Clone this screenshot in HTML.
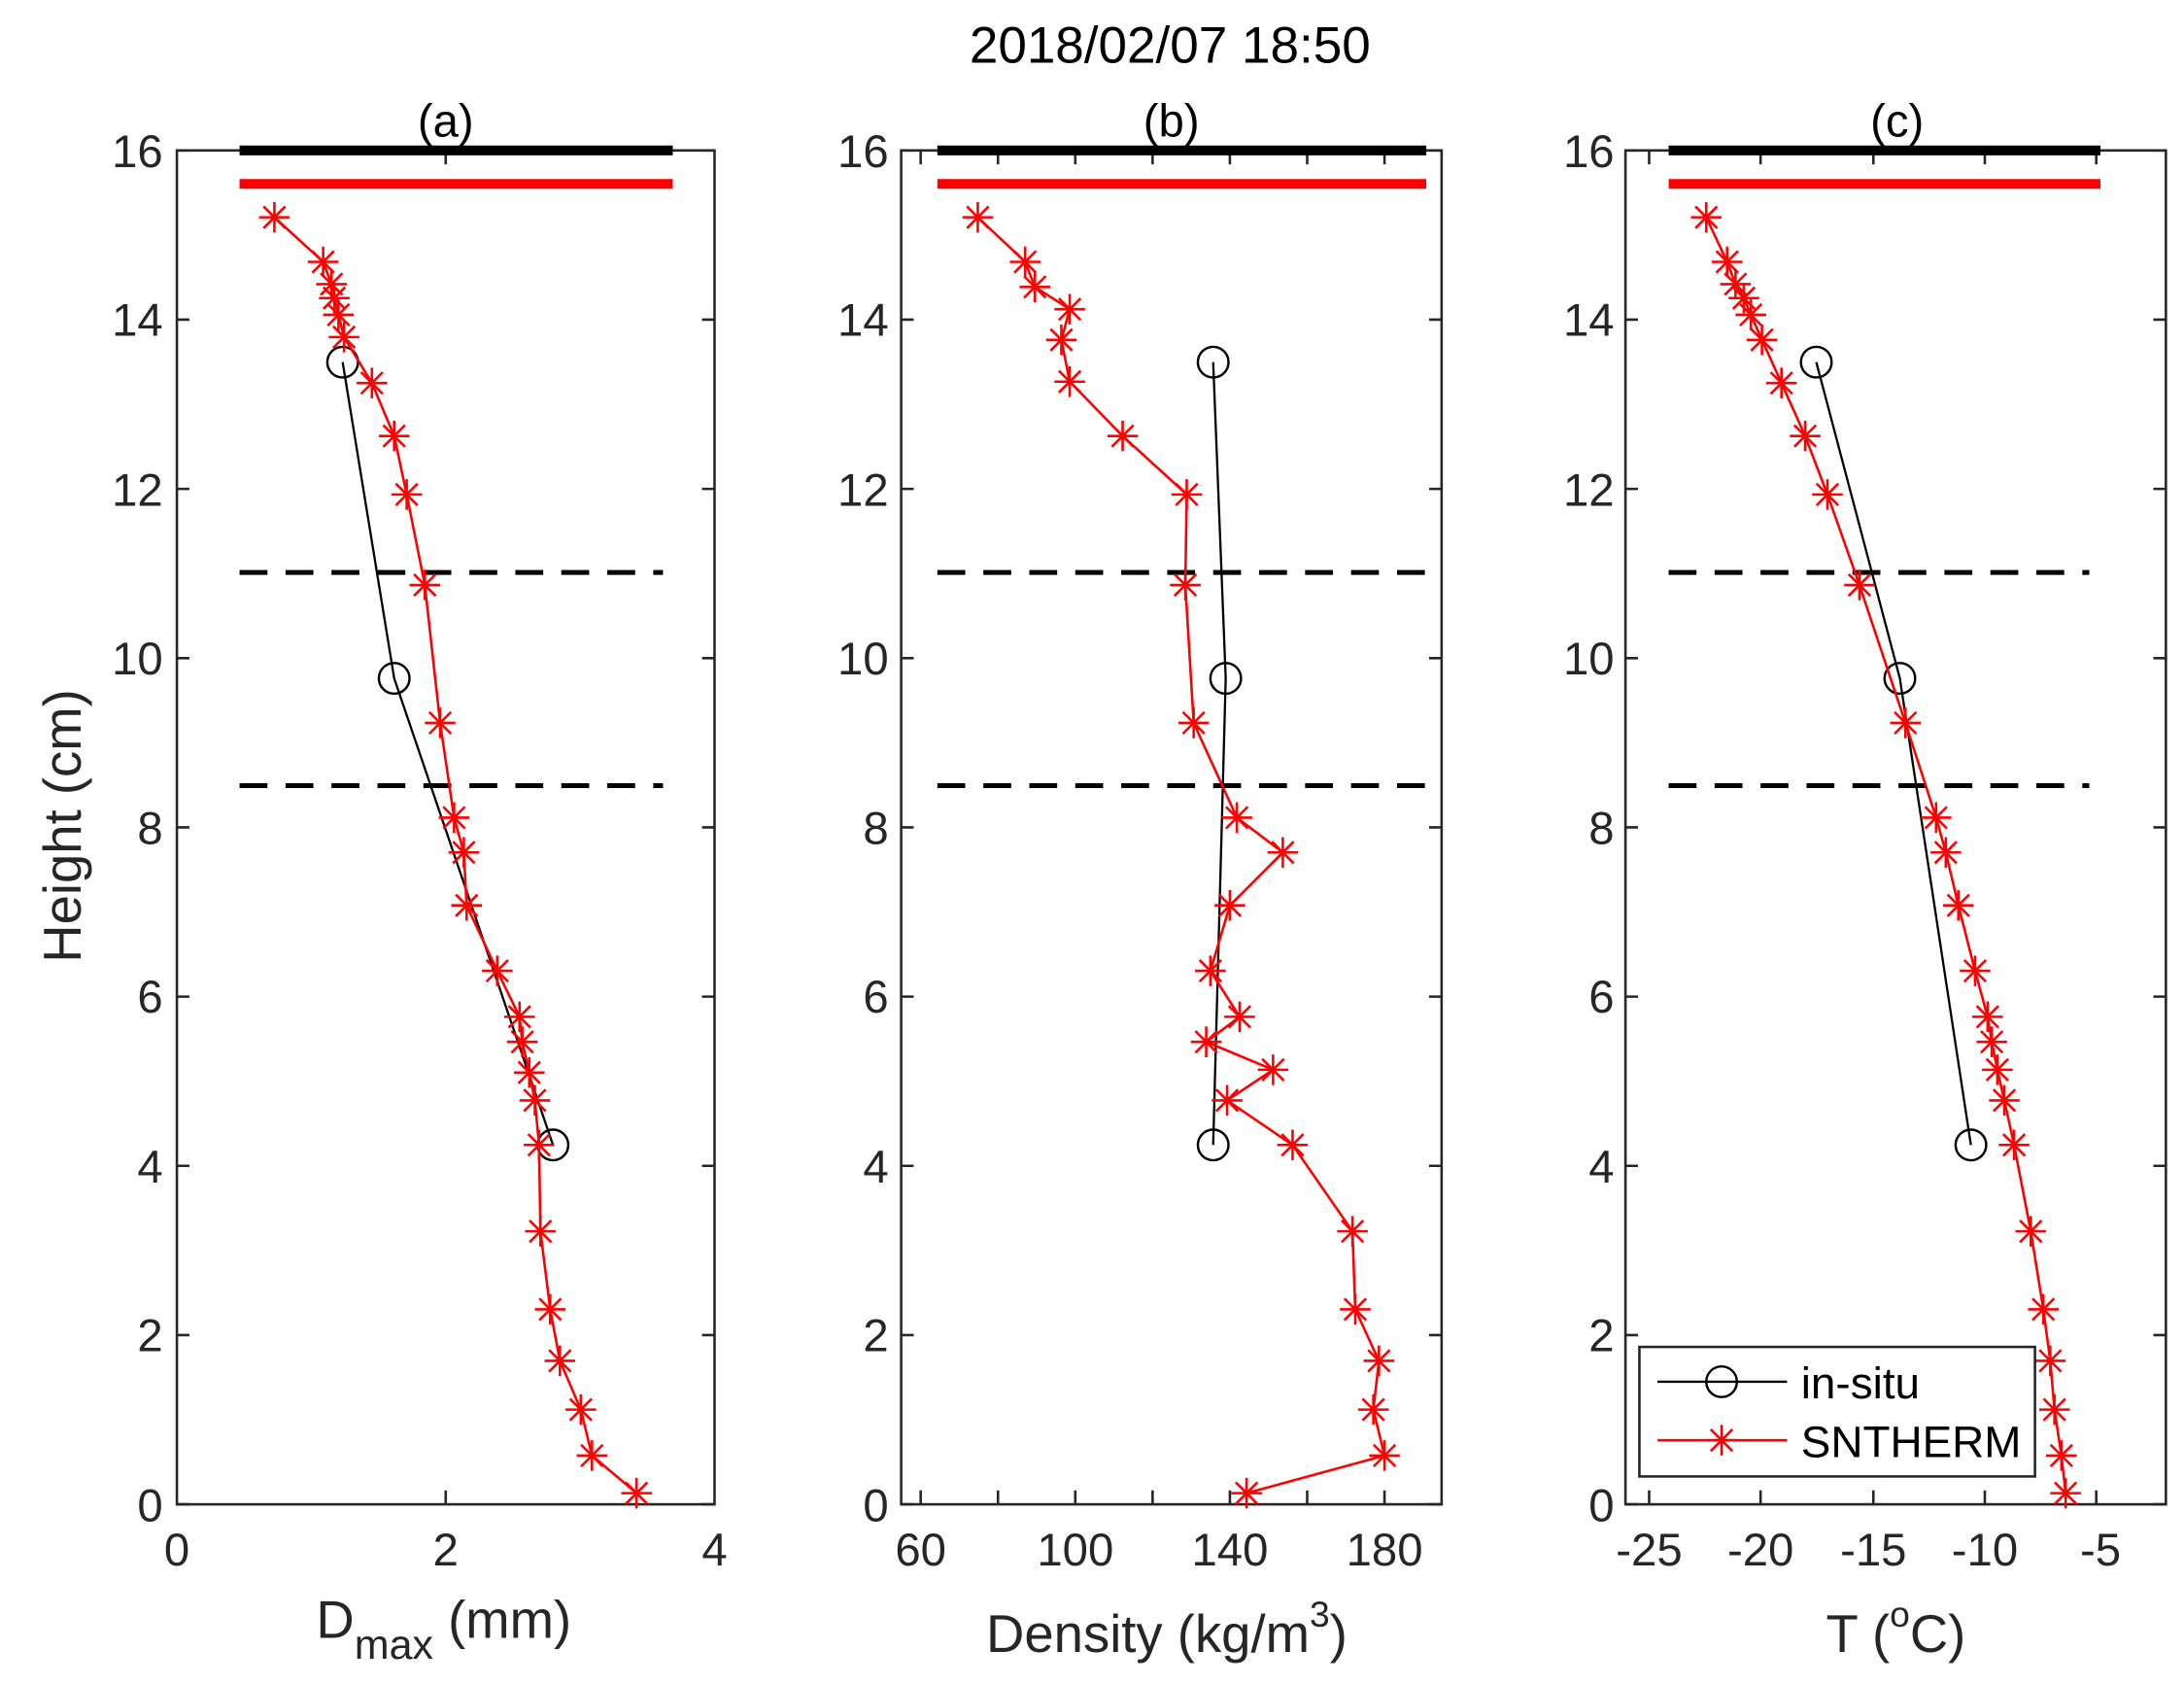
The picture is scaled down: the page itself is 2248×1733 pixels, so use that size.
<!DOCTYPE html>
<html><head><meta charset="utf-8"><style>html,body{margin:0;padding:0;background:#fff}svg{display:block}</style></head>
<body>
<svg width="2248" height="1733" viewBox="0 0 1568 1209" preserveAspectRatio="none" xmlns="http://www.w3.org/2000/svg" font-family="Liberation Sans, Arial, sans-serif">
<defs>
<g id="st"><path d="M-11,0H11M0,-11V11M-7.8,-7.8L7.8,7.8M-7.8,7.8L7.8,-7.8" stroke="#ff0000" stroke-width="1.8" fill="none"/></g>
<g id="ci"><circle r="11" fill="none" stroke="#000" stroke-width="1.7"/></g>
</defs>
<rect width="1568" height="1209" fill="#fff"/>
<text x="840" y="45" font-size="37" text-anchor="middle" fill="#000">2018/02/07 18:50</text>

<g font-size="33" fill="#262626" text-anchor="end">
<text x="117" y="1092">0</text><text x="117" y="970">2</text><text x="117" y="849">4</text><text x="117" y="727">6</text><text x="117" y="606">8</text><text x="117" y="484">10</text><text x="117" y="363">12</text><text x="117" y="241">14</text><text x="117" y="120">16</text>
<text x="638" y="1092">0</text><text x="638" y="970">2</text><text x="638" y="849">4</text><text x="638" y="727">6</text><text x="638" y="606">8</text><text x="638" y="484">10</text><text x="638" y="363">12</text><text x="638" y="241">14</text><text x="638" y="120">16</text>
<text x="1159" y="1092">0</text><text x="1159" y="970">2</text><text x="1159" y="849">4</text><text x="1159" y="727">6</text><text x="1159" y="606">8</text><text x="1159" y="484">10</text><text x="1159" y="363">12</text><text x="1159" y="241">14</text><text x="1159" y="120">16</text>
</g>
<text transform="translate(58,593) rotate(-90)" font-size="38" text-anchor="middle" fill="#262626">Height (cm)</text>

<g font-size="33" text-anchor="middle" fill="#000">
<text x="320" y="98">(a)</text><text x="841" y="98">(b)</text><text x="1362" y="98">(c)</text>
</g>

<g fill="none" stroke="#262626" stroke-width="1.8">
<rect x="127" y="108" width="386" height="972"/>
<rect x="647" y="108" width="388" height="972"/>
<rect x="1167" y="108" width="388" height="972"/>
</g>
<g stroke="#262626" stroke-width="1.8">
<path d="M127,1080h9M127,958.5h9M127,837h9M127,715.5h9M127,594h9M127,472.5h9M127,351h9M127,229.5h9M127,108h9
M513,1080h-9M513,958.5h-9M513,837h-9M513,715.5h-9M513,594h-9M513,472.5h-9M513,351h-9M513,229.5h-9M513,108h-9"/>
<path d="M647,1080h9M647,958.5h9M647,837h9M647,715.5h9M647,594h9M647,472.5h9M647,351h9M647,229.5h9M647,108h9
M1035,1080h-9M1035,958.5h-9M1035,837h-9M1035,715.5h-9M1035,594h-9M1035,472.5h-9M1035,351h-9M1035,229.5h-9M1035,108h-9"/>
<path d="M1167,1080h9M1167,958.5h9M1167,837h9M1167,715.5h9M1167,594h9M1167,472.5h9M1167,351h9M1167,229.5h9M1167,108h9
M1555,1080h-9M1555,958.5h-9M1555,837h-9M1555,715.5h-9M1555,594h-9M1555,472.5h-9M1555,351h-9M1555,229.5h-9M1555,108h-9"/>
<path d="M320,1080v-10M320,108v10"/>
<path d="M661,1080v-10M716.5,1080v-10M772,1080v-10M827.5,1080v-10M883,1080v-10M938.5,1080v-10M994,1080v-10
M661,108v10M716.5,108v10M772,108v10M827.5,108v10M883,108v10M938.5,108v10M994,108v10"/>
<path d="M1184,1080v-10M1264,1080v-10M1345,1080v-10M1425,1080v-10M1505,1080v-10
M1184,108v10M1264,108v10M1345,108v10M1425,108v10M1505,108v10"/>
</g>
<g font-size="33" fill="#262626" text-anchor="middle">
<text x="127" y="1124">0</text><text x="320" y="1124">2</text><text x="513" y="1124">4</text>
<text x="661" y="1124">60</text><text x="772" y="1124">100</text><text x="883" y="1124">140</text><text x="994" y="1124">180</text>
<text x="1184" y="1124">-25</text><text x="1264" y="1124">-20</text><text x="1345" y="1124">-15</text><text x="1425" y="1124">-10</text><text x="1508" y="1124">-5</text>
</g>
<g font-size="38" fill="#262626">
<text x="227" y="1176">D<tspan font-size="30" dy="15">max</tspan><tspan dy="-15"> (mm)</tspan></text>
<text x="708" y="1186">Density (kg/m<tspan font-size="26" dy="-18">3</tspan><tspan dy="18">)</tspan></text>
<text x="1311" y="1186">T (<tspan font-size="26" dy="-18">o</tspan><tspan dy="18">C)</tspan></text>
</g>

<g stroke-width="7">
<path d="M172,108H483" stroke="#000"/><path d="M172,132H483" stroke="#ff0000"/>
<path d="M673,108H1024" stroke="#000"/><path d="M673,132H1024" stroke="#ff0000"/>
<path d="M1198,108H1508" stroke="#000"/><path d="M1198,132H1508" stroke="#ff0000"/>
</g>
<g stroke="#000" stroke-width="3.5" stroke-dasharray="20,13">
<path d="M172,411H476M172,564H476"/>
<path d="M673,411H1026M673,564H1026"/>
<path d="M1198,411H1500M1198,564H1500"/>
</g>

<polyline fill="none" stroke="#000" stroke-width="1.6" points="246,260 283,487 397,822"/>
<g><use href="#ci" x="246" y="260"/><use href="#ci" x="283" y="487"/><use href="#ci" x="397" y="822"/></g>
<polyline fill="none" stroke="#ff0000" stroke-width="1.8" points="197,156 232,188 238,204 240,214 243,226 247,242 267,275 283,313 292,355 305,420 316,519 326,587 333,612 335,650 357,697 373,730 375,748 380,770 384,790 387,822 388,884 395,940 402,977 417,1012 425,1045 457,1072"/>
<g>
<use href="#st" x="197" y="156"/><use href="#st" x="232" y="188"/><use href="#st" x="238" y="204"/><use href="#st" x="240" y="214"/><use href="#st" x="243" y="226"/><use href="#st" x="247" y="242"/><use href="#st" x="267" y="275"/><use href="#st" x="283" y="313"/><use href="#st" x="292" y="355"/><use href="#st" x="305" y="420"/><use href="#st" x="316" y="519"/><use href="#st" x="326" y="587"/><use href="#st" x="333" y="612"/><use href="#st" x="335" y="650"/><use href="#st" x="357" y="697"/><use href="#st" x="373" y="730"/><use href="#st" x="375" y="748"/><use href="#st" x="380" y="770"/><use href="#st" x="384" y="790"/><use href="#st" x="387" y="822"/><use href="#st" x="388" y="884"/><use href="#st" x="395" y="940"/><use href="#st" x="402" y="977"/><use href="#st" x="417" y="1012"/><use href="#st" x="425" y="1045"/><use href="#st" x="457" y="1072"/>
</g>

<polyline fill="none" stroke="#000" stroke-width="1.6" points="871,260 880,487 871,822"/>
<g><use href="#ci" x="871" y="260"/><use href="#ci" x="880" y="487"/><use href="#ci" x="871" y="822"/></g>
<polyline fill="none" stroke="#ff0000" stroke-width="1.8" points="702,156 736,188 743,206 768,222 762,244 768,274 806,313 852,355 851,420 857,519 888,587 921,612 883,650 869,697 890,730 866,748 914,768 881,790 928,822 971,884 973,940 990,977 986,1012 994,1045 895,1072"/>
<g>
<use href="#st" x="702" y="156"/><use href="#st" x="736" y="188"/><use href="#st" x="743" y="206"/><use href="#st" x="768" y="222"/><use href="#st" x="762" y="244"/><use href="#st" x="768" y="274"/><use href="#st" x="806" y="313"/><use href="#st" x="852" y="355"/><use href="#st" x="851" y="420"/><use href="#st" x="857" y="519"/><use href="#st" x="888" y="587"/><use href="#st" x="921" y="612"/><use href="#st" x="883" y="650"/><use href="#st" x="869" y="697"/><use href="#st" x="890" y="730"/><use href="#st" x="866" y="748"/><use href="#st" x="914" y="768"/><use href="#st" x="881" y="790"/><use href="#st" x="928" y="822"/><use href="#st" x="971" y="884"/><use href="#st" x="973" y="940"/><use href="#st" x="990" y="977"/><use href="#st" x="986" y="1012"/><use href="#st" x="994" y="1045"/><use href="#st" x="895" y="1072"/>
</g>

<polyline fill="none" stroke="#000" stroke-width="1.6" points="1304,260 1364,487 1415,822"/>
<g><use href="#ci" x="1304" y="260"/><use href="#ci" x="1364" y="487"/><use href="#ci" x="1415" y="822"/></g>
<polyline fill="none" stroke="#ff0000" stroke-width="1.8" points="1225,156 1240,188 1246,204 1252,214 1257,226 1265,244 1279,275 1296,313 1312,355 1335,420 1368,519 1390,587 1397,612 1406,650 1418,697 1427,730 1430,748 1434,768 1439,790 1446,822 1458,884 1467,940 1472,977 1475,1012 1480,1045 1483,1072"/>
<g>
<use href="#st" x="1225" y="156"/><use href="#st" x="1240" y="188"/><use href="#st" x="1246" y="204"/><use href="#st" x="1252" y="214"/><use href="#st" x="1257" y="226"/><use href="#st" x="1265" y="244"/><use href="#st" x="1279" y="275"/><use href="#st" x="1296" y="313"/><use href="#st" x="1312" y="355"/><use href="#st" x="1335" y="420"/><use href="#st" x="1368" y="519"/><use href="#st" x="1390" y="587"/><use href="#st" x="1397" y="612"/><use href="#st" x="1406" y="650"/><use href="#st" x="1418" y="697"/><use href="#st" x="1427" y="730"/><use href="#st" x="1430" y="748"/><use href="#st" x="1434" y="768"/><use href="#st" x="1439" y="790"/><use href="#st" x="1446" y="822"/><use href="#st" x="1458" y="884"/><use href="#st" x="1467" y="940"/><use href="#st" x="1472" y="977"/><use href="#st" x="1475" y="1012"/><use href="#st" x="1480" y="1045"/><use href="#st" x="1483" y="1072"/>
</g>

<rect x="1177" y="967" width="284" height="93" fill="#fff" stroke="#262626" stroke-width="1.8"/>
<path d="M1190,992H1283" stroke="#000" stroke-width="1.6"/>
<use href="#ci" x="1236" y="992"/>
<path d="M1190,1034H1283" stroke="#ff0000" stroke-width="1.8"/>
<use href="#st" x="1236" y="1034"/>
<g font-size="32" fill="#000">
<text x="1293" y="1004">in-situ</text>
<text x="1293" y="1046">SNTHERM</text>
</g>
</svg>
</body></html>
